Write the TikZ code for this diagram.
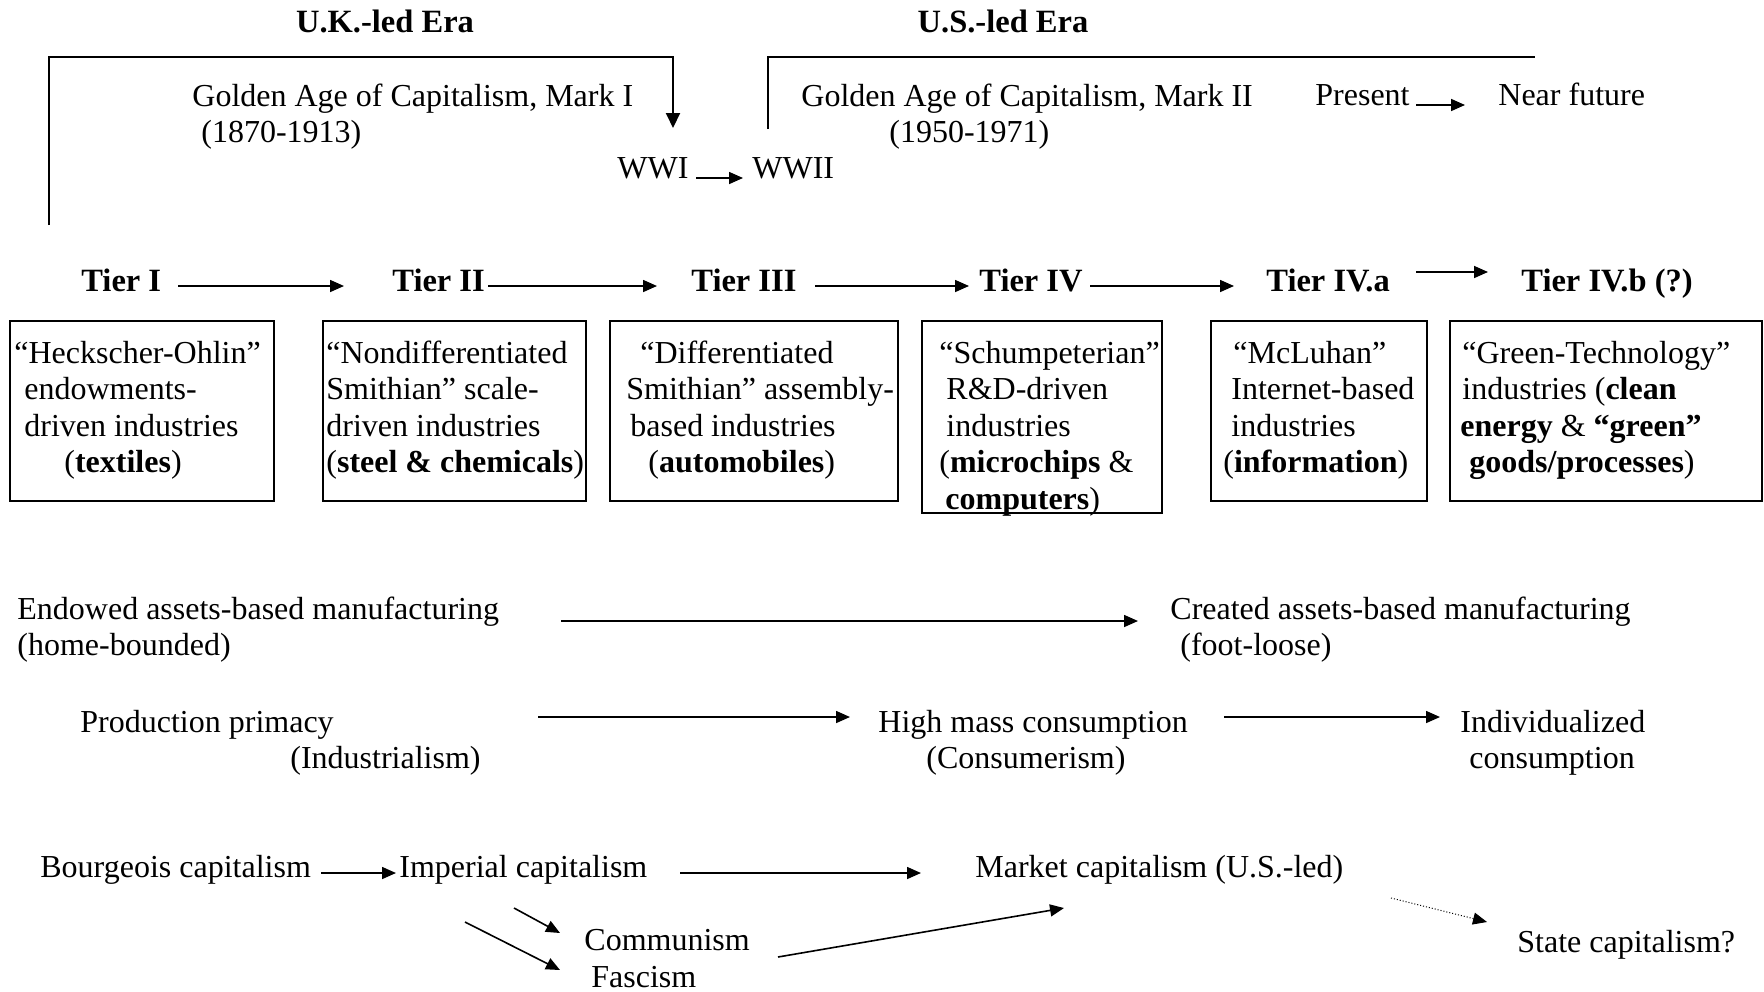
\documentclass[tikz,border=0pt]{standalone}
\usepackage{fontspec}
\setmainfont{Liberation Serif}
\usetikzlibrary{arrows.meta}
\tikzset{
  txt/.style={inner sep=0pt, anchor=base west, font=\fontsize{16pt}{18.25pt}\selectfont},
  btxt/.style={txt, font=\fontsize{16.25pt}{18.25pt}\selectfont\bfseries},
  boxtxt/.style={inner sep=0pt, anchor=north west, align=left, font=\fontsize{16pt}{18.25pt}\selectfont},
  tierbox/.style={draw, line width=1pt, inner sep=0pt},
  arr/.style={line width=0.8pt, -{Triangle[length=7pt,width=6pt]}},
  dotarr/.style={line width=0.5pt, densely dotted, -{Triangle[length=7pt,width=6pt]}},
  bracket/.style={line width=1pt},
}
\newcommand{\fl}{\rule{0pt}{13pt}}
\begin{document}
\begin{tikzpicture}[x=0.5pt,y=-0.5pt]
\useasboundingbox (0,0) rectangle (1764,991);

% ---- eras ----
\node[btxt, anchor=base] (ukera) at (385,32) {U.K.-led Era};
\node[btxt, anchor=base] (usera) at (1003,32) {U.S.-led Era};

\coordinate (ukA) at (49,225);
\coordinate (ukB) at (673,57);
\coordinate (ukC) at (673,128);
\draw[bracket, -{Triangle[length=7.5pt,width=7pt]}] (ukA) |- (ukB) -- (ukC);
\coordinate (usA) at (768,129);
\coordinate (usB) at (1535,57);
\draw[bracket] (usA) |- (usB);

\node[txt] (gold1) at (192,106) {Golden Age of Capitalism, Mark I};
\node[txt] (gold1y) at (201,142) {(1870-1913)};
\node[txt] (wwi) at (617,178) {WWI};
\node[txt] (wwii) at (752,178) {WWII};
\draw[arr] ([shift={(79,0)}]wwi.base west) -- ([shift={(-9,0)}]wwii.base west);

\node[txt] (gold2) at (801,106) {Golden Age of Capitalism, Mark II};
\node[txt] (gold2y) at (889,142) {(1950-1971)};
\node[txt] (present) at (1315,105) {Present};
\node[txt] (near) at (1498,105) {Near future};
\draw[arr] ([shift={(101,0)}]present.base west) -- ([shift={(-33,0)}]near.base west);

% ---- tiers ----
\node[btxt] (t1) at (81,291) {Tier I};
\node[btxt] (t2) at (392,291) {Tier II};
\node[btxt] (t3) at (691,291) {Tier III};
\node[btxt] (t4) at (979,291) {Tier IV};
\node[btxt] (t4a) at (1266,291) {Tier IV.a};
\node[btxt] (t4b) at (1521,291) {Tier IV.b (?)};
\draw[arr] ([shift={(97,-5)}]t1.base west) -- ([shift={(-48,-5)}]t2.base west);
\draw[arr] ([shift={(96,-5)}]t2.base west) -- ([shift={(-34,-5)}]t3.base west);
\draw[arr] ([shift={(124,-5)}]t3.base west) -- ([shift={(-10,-5)}]t4.base west);
\draw[arr] ([shift={(111,-5)}]t4.base west) -- ([shift={(-32,-5)}]t4a.base west);
\draw[arr] ([shift={(150,-19)}]t4a.base west) -- ([shift={(-33,-19)}]t4b.base west);

% ---- boxes ----
\node[tierbox, minimum width=132pt, minimum height=90pt] (b1) at (142,411) {};
\node[tierbox, minimum width=131.5pt, minimum height=90pt] (b2) at (454.5,411) {};
\node[tierbox, minimum width=144pt, minimum height=90pt] (b3) at (754,411) {};
\node[tierbox, minimum width=120pt, minimum height=96pt] (b4) at (1042,417) {};
\node[tierbox, minimum width=108pt, minimum height=90pt] (b5) at (1318.5,411) {};
\node[tierbox, minimum width=156pt, minimum height=90pt] (b6) at (1606,411) {};

\node[boxtxt] (b1t) at (14,337) {\fl “Heckscher-Ohlin”\\\hspace*{5pt}endowments-\\\hspace*{5pt}driven industries\\\hspace*{25pt}(\textbf{textiles})};
\node[boxtxt] (b2t) at (326,337) {\fl “Nondifferentiated\\Smithian” scale-\\driven industries\\(\textbf{steel \& chemicals})};
\node[boxtxt] (b3t) at (626,337) {\hspace*{7pt}\fl “Differentiated\\Smithian” assembly-\\\hspace*{2pt}based industries\\\hspace*{11pt}(\textbf{automobiles})};
\node[boxtxt] (b4t) at (939,337) {\fl “Schumpeterian”\\\hspace*{3.5pt}R\&D-driven\\\hspace*{3.5pt}industries\\(\textbf{microchips} \&\\\hspace*{3pt}\textbf{computers})};
\node[boxtxt] (b5t) at (1223,337) {\hspace*{5pt}\fl “McLuhan”\\\hspace*{4pt}Internet-based\\\hspace*{4pt}industries\\(\textbf{information})};
\node[boxtxt] (b6t) at (1460,337) {\hspace*{1pt}\fl “Green-Technology”\\\hspace*{1pt}industries (\textbf{clean}\\\textbf{energy} \& \textbf{“green”}\\\hspace*{4.5pt}\textbf{goods/processes})};

% ---- manufacturing ----
\node[txt] (endowed) at (17,619) {Endowed assets-based manufacturing};
\node[txt] (homeb) at (17,655) {(home-bounded)};
\node[txt] (created) at (1170,619) {Created assets-based manufacturing};
\node[txt] (footl) at (1180,655) {(foot-loose)};
\draw[arr] ([shift={(544,2)}]endowed.base west) -- ([shift={(-32,2)}]created.base west);

% ---- consumption ----
\node[txt] (prod) at (80,732) {Production primacy};
\node[txt] (indus) at (290,768) {(Industrialism)};
\node[txt] (highmass) at (878,732) {High mass consumption};
\node[txt] (consum) at (926,768) {(Consumerism)};
\node[txt] (indiv) at (1460,732) {Individualized};
\node[txt] (consumption) at (1469,768) {consumption};
\draw[arr] ([shift={(458,-15)}]prod.base west) -- ([shift={(-28,-15)}]highmass.base west);
\draw[arr] ([shift={(346,-15)}]highmass.base west) -- ([shift={(-20,-15)}]indiv.base west);

% ---- capitalism ----
\node[txt] (bourg) at (40,877) {Bourgeois capitalism};
\node[txt] (imper) at (399,877) {Imperial capitalism};
\node[txt] (market) at (975,877) {Market capitalism (U.S.-led)};
\node[txt] (commun) at (584,950) {Communism};
\node[txt] (fasc) at (591,987) {Fascism};
\node[txt] (state) at (1517,952) {State capitalism?};
\draw[arr] ([shift={(281,-4)}]bourg.base west) -- ([shift={(-3,-4)}]imper.base west);
\draw[arr] ([shift={(281,-4)}]imper.base west) -- ([shift={(-54,-4)}]market.base west);
\draw[arr] ([shift={(115,31)}]imper.base west) -- ([shift={(-24,-17)}]commun.base west);
\draw[arr] ([shift={(66,45)}]imper.base west) -- ([shift={(-31,-17)}]fasc.base west);
\draw[arr] ([shift={(194,7)}]commun.base west) -- ([shift={(89,31)}]market.base west);
\draw[dotarr] ([shift={(416,21)}]market.base west) -- ([shift={(-30,-30)}]state.base west);
\end{tikzpicture}
\end{document}
